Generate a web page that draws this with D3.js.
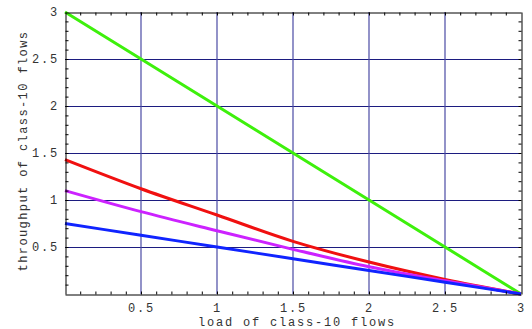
<!DOCTYPE html>
<html>
<head>
<meta charset="utf-8">
<script src="https://cdn.jsdelivr.net/npm/d3@7"></script>
<style>
  body { margin: 0; background: #fff; }
  text { font-family: "Courier New", "Liberation Mono", monospace; fill: #333; }
</style>
</head>
<body>
<div id="chart"></div>
<script>
// load values (x) where the curves were read
var loads = [0, 0.5, 1, 1.5, 2, 2.5, 3];

// throughput values
var greenSeries   = [3, 2.5, 2, 1.5, 1, 0.5, 0];
var redSeries     = [1.43, 1.12, 0.84, 0.56, 0.34, 0.155, 0];
var magentaSeries = [1.10, 0.876, 0.673, 0.475, 0.29, 0.14, 0];
var blueSeries    = [0.75, 0.625, 0.5, 0.375, 0.25, 0.125, 0];

var majorTicks = [0.5, 1, 1.5, 2, 2.5, 3];
var xLabel = "load of class-10 flows";
var yLabel = "throughput of class-10 flows";

var series = [
  { name: "green", values: greenSeries, color: "#3ef00c" },
  { name: "red", values: redSeries, color: "#f01010" },
  { name: "magenta", values: magentaSeries, color: "#cc22ff" },
  { name: "blue", values: blueSeries, color: "#1024ff" }
];

var width = 532, height = 329;
var margin = { top: 12, right: 11, bottom: 35, left: 65 };
var innerW = width - margin.left - margin.right;
var innerH = height - margin.top - margin.bottom;
var fontFam = "'Courier New','Liberation Mono',monospace";

var svg = d3.select("#chart").append("svg")
  .attr("width", width)
  .attr("height", height);

var g = svg.append("g")
  .attr("transform", "translate(" + margin.left + "," + margin.top + ")");

var x = d3.scaleLinear().domain([0, 3]).range([0, innerW]);
var y = d3.scaleLinear().domain([0, 3]).range([innerH, 0]);

var minorTicks = d3.range(1, 30).map(function(i) { return i / 10; });

// grid lines
g.append("g").selectAll("line.h")
  .data(majorTicks.filter(function(d) { return d < 3; }))
  .enter().append("line")
  .attr("x1", 0).attr("x2", innerW)
  .attr("y1", function(d) { return Math.round(y(d)) + 0.5; })
  .attr("y2", function(d) { return Math.round(y(d)) + 0.5; })
  .attr("stroke", "#1c1c80").attr("stroke-width", 1);

g.append("g").selectAll("line.v")
  .data(majorTicks.filter(function(d) { return d < 3; }))
  .enter().append("line")
  .attr("x1", function(d) { return Math.round(x(d)); })
  .attr("x2", function(d) { return Math.round(x(d)); })
  .attr("y1", 0).attr("y2", innerH)
  .attr("stroke", "#4a4aa4").attr("stroke-width", 1.2);

// curves
var line = d3.line()
  .x(function(d, i) { return x(loads[i]); })
  .y(function(d) { return y(d); })
  .curve(d3.curveMonotoneX);

g.selectAll("path.series")
  .data(series)
  .enter().append("path")
  .attr("class", "series")
  .attr("fill", "none")
  .attr("stroke", function(d) { return d.color; })
  .attr("stroke-width", 3)
  .attr("d", function(d) { return line(d.values); });

// frame with small inward ticks on all four sides
function frameAxis(axis) {
  return axis.tickValues(minorTicks).tickSize(-3).tickSizeOuter(0).tickFormat("");
}
var axes = [
  { a: frameAxis(d3.axisBottom(x)), t: "translate(0," + (innerH + 0.5) + ")" },
  { a: frameAxis(d3.axisTop(x)), t: "translate(0,0.5)" },
  { a: frameAxis(d3.axisLeft(y)), t: "translate(0.5,0)" },
  { a: frameAxis(d3.axisRight(y)), t: "translate(" + (innerW + 0.5) + ",0)" }
];
axes.forEach(function(ax) {
  var s = g.append("g").attr("transform", ax.t).call(ax.a);
  s.selectAll("path.domain").attr("stroke", "#000");
  s.selectAll(".tick line").attr("stroke", "#000");
});

// tick labels
var xAxis = d3.axisBottom(x).tickValues(majorTicks).tickSize(0).tickPadding(9)
  .tickFormat(function(d) { return d3.format("")(d); });
var gx = g.append("g").attr("transform", "translate(0," + innerH + ")").call(xAxis);
gx.select(".domain").remove();
gx.selectAll("text").attr("font-size", 12).attr("letter-spacing", "1.8px")
  .attr("font-family", fontFam).attr("fill", "#333");

var yAxis = d3.axisLeft(y).tickValues(majorTicks).tickSize(0).tickPadding(6)
  .tickFormat(function(d) { return d3.format("")(d); });
var gy = g.append("g").call(yAxis);
gy.select(".domain").remove();
gy.selectAll("text").attr("font-size", 12).attr("letter-spacing", "1.8px")
  .attr("font-family", fontFam).attr("fill", "#333");

// axis titles
svg.append("text")
  .attr("x", margin.left + innerW / 2 + 4)
  .attr("y", 326)
  .attr("text-anchor", "middle")
  .attr("font-size", 12)
  .attr("letter-spacing", "1.8px")
  .text(xLabel);

svg.append("text")
  .attr("transform", "translate(27," + 151 + ") rotate(-90)")
  .attr("text-anchor", "middle")
  .attr("font-size", 12)
  .attr("letter-spacing", "1.4px")
  .text(yLabel);
</script>
</body>
</html>
